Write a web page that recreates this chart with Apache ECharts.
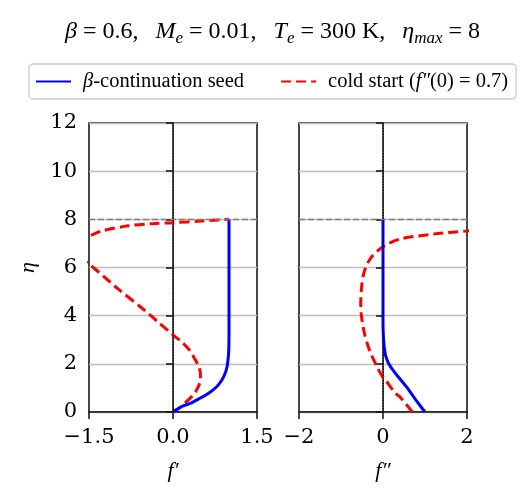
<!DOCTYPE html>
<html>
<head>
<meta charset="utf-8">
<script src="https://cdn.jsdelivr.net/npm/echarts@6/dist/echarts.min.js"></script>
<style>
  html, body { margin: 0; background: #fff; }
  #chart { width: 529px; height: 498px; }
</style>
</head>
<body>
<div id="chart"></div>
<script>
  // η ticks shared by both panels
  const etaTicks = [0, 2, 4, 6, 8, 10, 12];
  const fpTicks = [-1.5, 0, 1.5];
  const fppTicks = [-2, 0, 2];

  // left panel, f' vs eta
  const seedFpEta = [0, 0.14, 0.25, 0.38, 0.57, 0.77, 1.05, 1.32, 1.6, 1.87, 2.15, 2.56, 3.25, 4, 5, 6, 7, 8];
  const seedFp = [0, 0.095, 0.18, 0.33, 0.48, 0.63, 0.78, 0.87, 0.93, 0.964, 0.982, 0.995, 1.0, 1.0, 1.0, 1.0, 1.0, 1.0];

  const coldFpEta = [0, 0.2, 0.43, 0.68, 0.91, 1.15, 1.39, 1.6, 1.94, 2.2, 2.56, 2.9, 3.2, 3.7, 4.21, 5.11, 6.14, 6.6, 6.95, 7.15, 7.31, 7.52, 7.73, 7.82, 7.86, 7.93, 8.0];
  const coldFp = [0, 0.13, 0.24, 0.35, 0.42, 0.47, 0.49, 0.49, 0.45, 0.39, 0.30, 0.16, 0, -0.25, -0.5, -0.98, -1.5, -1.8, -1.95, -1.85, -1.5, -1.27, -0.8, -0.38, 0, 0.51, 1.0];

  // right panel, f'' vs eta
  const seedFppEta = [0, 0.25, 0.5, 0.75, 1.0, 1.3, 1.55, 1.8, 2.05, 2.35, 2.7, 3.1, 3.6, 4, 5, 6, 7, 8];
  const seedFpp = [1.0, 0.89, 0.78, 0.68, 0.58, 0.44, 0.32, 0.21, 0.12, 0.06, 0.03, 0.01, 0, 0, 0, 0, 0, 0];

  const coldFppEta = [0, 0.63, 0.77, 1.3, 1.46, 1.87, 2.56, 3.25, 3.94, 4.5, 5.18, 5.87, 6.42, 6.86, 7.18, 7.38, 7.52, 7.7, 7.85, 8.0];
  const coldFpp = [0.70, 0.40, 0.30, 0.07, -0.01, -0.14, -0.32, -0.44, -0.51, -0.53, -0.51, -0.44, -0.28, 0, 0.40, 1.17, 1.99, 3.0, 4.0, 5.0];

  const etaWall = 8;

  const pairs = (xs, ys) => xs.map((x, i) => [x, ys[i]]);
  const minus = (v) => String(v).replace("-", "\u2212");

  const BLUE = "#0000ff";
  const RED = "#ff0000";
  const AXIS = "#1a1a1a";
  const SERIF = "Liberation Serif";
  const tickFont = { fontFamily: "DejaVu Serif", fontSize: 21, color: "#000" };

  const xAxisBase = (gridIndex, min, max, interval, fmt, name) => ({
    type: "value",
    gridIndex,
    min,
    max,
    interval,
    name,
    nameLocation: "middle",
    nameGap: 48,
    nameTextStyle: { fontFamily: SERIF, fontStyle: "italic", fontSize: 22, color: "#000" },
    axisLine: { show: true, onZero: false, lineStyle: { color: AXIS, width: 1.6 } },
    axisTick: { show: true, length: 7, lineStyle: { color: AXIS, width: 1.6 } },
    axisLabel: { ...tickFont, margin: 15, formatter: fmt },
    splitLine: { show: false },
  });

  const yAxisBase = (gridIndex, showLabels) => ({
    type: "value",
    gridIndex,
    min: etaTicks[0],
    max: etaTicks[etaTicks.length - 1],
    interval: 2,
    name: showLabels ? "η" : "",
    nameLocation: "middle",
    nameGap: 50,
    nameRotate: 90,
    nameTextStyle: { fontFamily: SERIF, fontStyle: "italic", fontSize: 22, color: "#000" },
    axisLine: { show: true, lineStyle: { color: AXIS, width: 1.6 } },
    axisTick: { show: true, length: 7, lineStyle: { color: AXIS, width: 1.6 } },
    axisLabel: { ...tickFont, show: showLabels, margin: 12 },
    splitLine: { show: true, lineStyle: { color: "#bdbdbd", width: 1.4 } },
  });

  // dashed η = 8 line and dotted zero line, drawn on top
  const refLines = (xi) => ({
    type: "line",
    xAxisIndex: xi,
    yAxisIndex: xi,
    data: [],
    z: 5,
    silent: true,
    markLine: {
      silent: true,
      symbol: "none",
      label: { show: false },
      animation: false,
      data: [
        { yAxis: etaWall, lineStyle: { color: "#808080", type: [6, 3], width: 1.4 } },
        { xAxis: 0, lineStyle: { color: "#000", type: [1.2, 1.6], width: 1 } },
      ],
    },
  });

  const curve = (name, xi, data, color, dashed, smooth) => ({
    name,
    type: "line",
    xAxisIndex: xi,
    yAxisIndex: xi,
    data,
    smooth,
    symbol: "none",
    clip: true,
    animation: false,
    lineStyle: { color, width: 3, type: dashed ? [10, 5] : "solid" },
    itemStyle: { color },
  });

  const txt = (extra) => ({ fontFamily: SERIF, fontWeight: "normal", color: "#000", ...extra });

  const chart = echarts.init(document.getElementById("chart"));
  chart.setOption({
    backgroundColor: "#fff",
    title: {
      left: 60,
      top: 12,
      text: "{i|β}{n| = 0.6,}{g|}{i|M}{s|e}{n| = 0.01,}{g|}{i|T}{s|e}{n| = 300 K,}{g|}{i|η}{s|max}{n| = 8}",
      textStyle: {
        fontWeight: "normal",
        rich: {
          n: txt({ fontSize: 24, lineHeight: 30, verticalAlign: "middle" }),
          i: txt({ fontSize: 24, fontStyle: "italic", lineHeight: 30, verticalAlign: "middle" }),
          s: txt({ fontSize: 17, fontStyle: "italic", lineHeight: 17, verticalAlign: "bottom" }),
          g: { width: 17 },
        },
      },
    },
    legend: {
      left: 29,
      top: 64,
      data: ["seed", "cold"],
      itemWidth: 35,
      itemHeight: 14,
      itemGap: 36,
      padding: [7, 8, 7, 6],
      borderColor: "#cccccc",
      borderWidth: 1.3,
      borderRadius: 4,
      itemStyle: { opacity: 0 },
      formatter: (name) =>
        name === "seed" ? "{i|β}{n|-continuation seed}" : "{n|cold start (}{i|f″}{n|(0) = 0.7)}",
      textStyle: {
        padding: [0, 0, 0, 7],
        rich: {
          n: txt({ fontSize: 20.5 }),
          i: txt({ fontSize: 20.5, fontStyle: "italic" }),
        },
      },
    },
    grid: [
      { left: 89, top: 123, width: 168, height: 289, show: true, borderColor: AXIS, borderWidth: 1.6, backgroundColor: "transparent" },
      { left: 299, top: 123, width: 168, height: 289, show: true, borderColor: AXIS, borderWidth: 1.6, backgroundColor: "transparent" },
    ],
    xAxis: [
      xAxisBase(0, fpTicks[0], fpTicks[2], 1.5, (v) => minus(v.toFixed(1)), "f′"),
      xAxisBase(1, fppTicks[0], fppTicks[2], 2, (v) => minus(v), "f″"),
    ],
    yAxis: [yAxisBase(0, true), yAxisBase(1, false)],
    series: [
      curve("cold", 0, pairs(coldFp, coldFpEta), RED, true, 0.3),
      curve("seed", 0, pairs(seedFp, seedFpEta), BLUE, false, 0.3),
      curve("cold", 1, pairs(coldFpp, coldFppEta), RED, true, 0.3),
      curve("seed", 1, pairs(seedFpp, seedFppEta), BLUE, false, false),
      refLines(0),
      refLines(1),
    ],
  });
</script>
</body>
</html>
